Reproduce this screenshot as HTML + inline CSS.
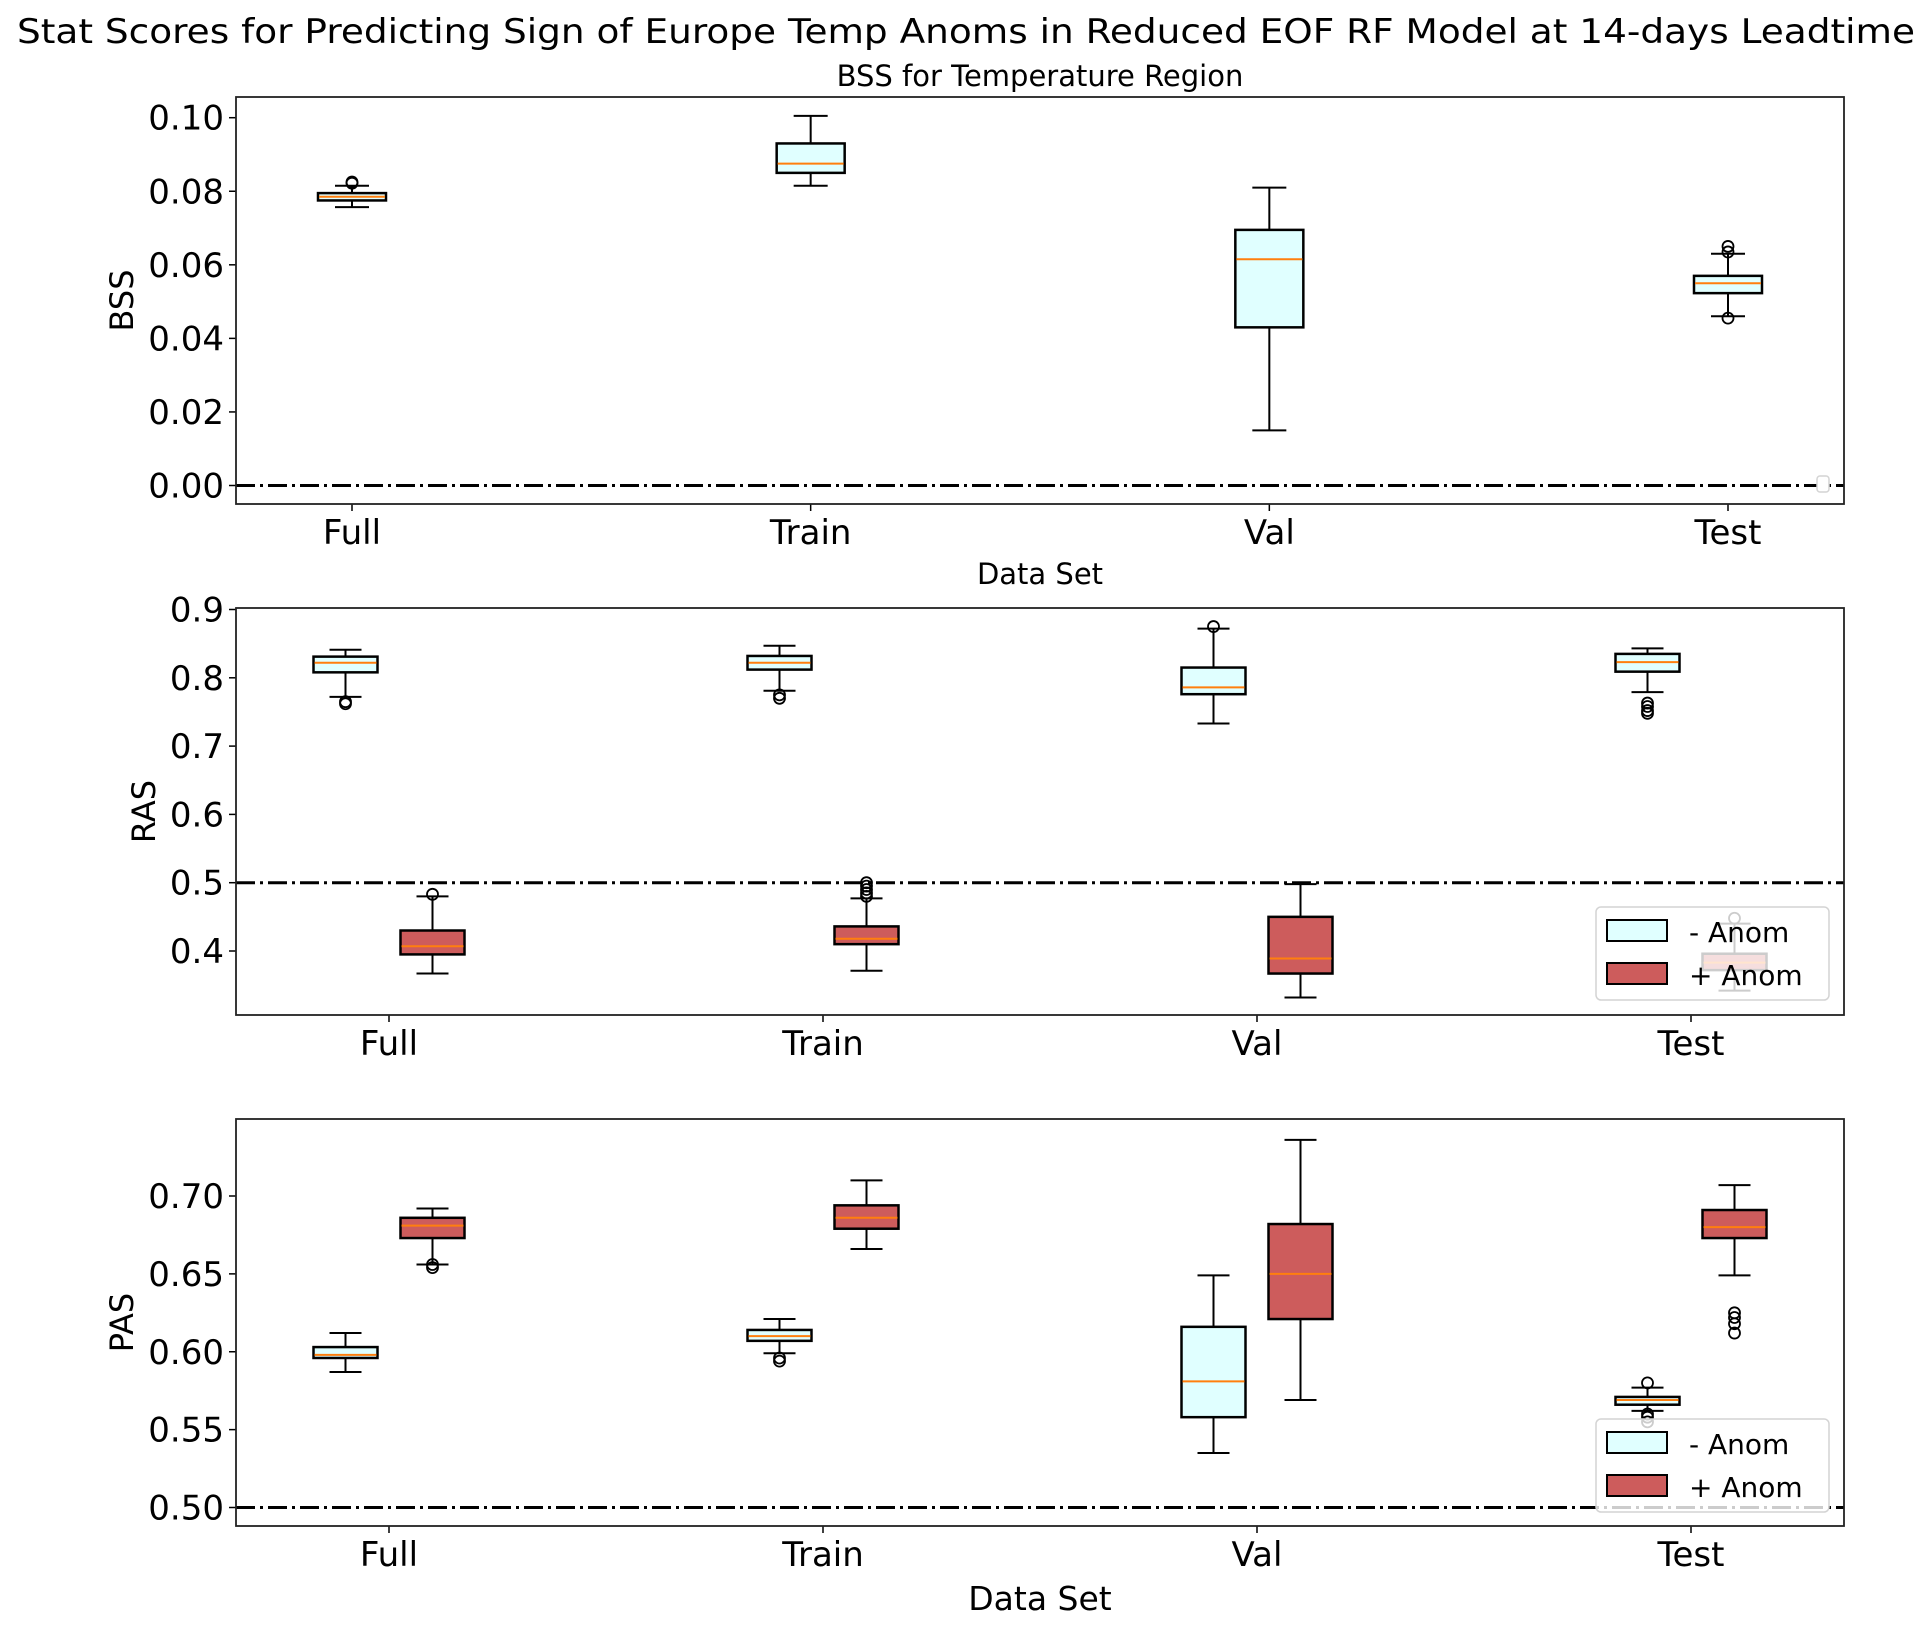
<!DOCTYPE html>
<html><head><meta charset="utf-8"><style>
html,body{margin:0;padding:0;background:#fff;}
svg{display:block;font-family:"DejaVu Sans","Liberation Sans",sans-serif;}
</style></head><body>
<svg id="fig" width="1931" height="1630" viewBox="0 0 1931 1630" xmlns="http://www.w3.org/2000/svg">
<rect width="1931" height="1630" fill="#fff"/>
<text x="17" y="43" font-size="34" textLength="1898" lengthAdjust="spacingAndGlyphs">Stat Scores for Predicting Sign of Europe Temp Anoms in Reduced EOF RF Model at 14-days Leadtime</text>
<text x="1040" y="86" font-size="29" text-anchor="middle">BSS for Temperature Region</text>
<g id="p1"></g>
<g id="p2"></g>
<g id="p3"></g>
</svg>
<script>
const categories = ["Full","Train","Val","Test"];
// stats: [whiskerLo, q1, median, q3, whiskerHi]
const bssStats = [[0.0757,0.0775,0.0785,0.0795,0.0815],[0.0815,0.085,0.0875,0.093,0.1005],[0.015,0.043,0.0615,0.0695,0.081],[0.046,0.0523,0.055,0.057,0.063]];
const bssOutliers = [[0.0825,0.0822],[],[],[0.065,0.0635,0.0455]];
const rasNegStats = [[0.772,0.808,0.822,0.831,0.841],[0.781,0.812,0.822,0.832,0.847],[0.733,0.776,0.786,0.815,0.872],[0.779,0.809,0.823,0.835,0.843]];
const rasNegOutliers = [[0.762,0.765],[0.770,0.775],[0.875],[0.748,0.752,0.758,0.763]];
const rasPosStats = [[0.367,0.395,0.407,0.430,0.480],[0.371,0.410,0.418,0.436,0.477],[0.332,0.367,0.389,0.450,0.498],[0.342,0.372,0.383,0.396,0.440]];
const rasPosOutliers = [[0.483],[0.480,0.485,0.490,0.495,0.500],[],[0.448]];
const pasNegStats = [[0.587,0.596,0.598,0.603,0.612],[0.599,0.607,0.610,0.614,0.621],[0.535,0.558,0.581,0.616,0.649],[0.562,0.566,0.569,0.571,0.577]];
const pasNegOutliers = [[],[0.594,0.596],[],[0.580,0.558,0.555,0.560]];
const pasPosStats = [[0.656,0.673,0.681,0.686,0.692],[0.666,0.679,0.686,0.694,0.710],[0.569,0.621,0.650,0.682,0.736],[0.649,0.673,0.680,0.691,0.707]];
const pasPosOutliers = [[0.654,0.656],[],[],[0.612,0.618,0.622,0.625]];
const bssTicks = [0.00,0.02,0.04,0.06,0.08,0.10];
const rasTicks = [0.4,0.5,0.6,0.7,0.8,0.9];
const pasTicks = [0.50,0.55,0.60,0.65,0.70];

const NS="http://www.w3.org/2000/svg";
function mk(parent,tag,attrs){const e=document.createElementNS(NS,tag);for(const k in attrs)e.setAttribute(k,attrs[k]);parent.appendChild(e);return e;}

function panel(g,cfg){
  const L=236,R=1844,T=cfg.top,B=cfg.bottom;
  const y=v=>cfg.y0px+(v-cfg.v0)*(cfg.y1px-cfg.y0px)/(cfg.v1-cfg.v0);
  const x=i=>L+cfg.margin+i*(R-L-2*cfg.margin)/3;
  cfg.ticks.forEach(t=>{
    const yy=y(t);
    const tk=mk(g,'line',{x1:L-7,x2:L,y1:yy,y2:yy,stroke:'#000','stroke-width':1.5});
    
    
    const tl=mk(g,'text',{x:L-12,y:yy+12,'font-size':34,'text-anchor':'end'});
    tl.textContent=t.toFixed(cfg.dec);
    
    
  });
  categories.forEach((c,i)=>{
    const xx=x(i);
    const tk=mk(g,'line',{x1:xx,x2:xx,y1:B,y2:B+7,stroke:'#000','stroke-width':1.5});
    
    
    const tl=mk(g,'text',{x:xx,y:B+40,'font-size':34,'text-anchor':'middle'});
    tl.textContent=c;
    
    
  });
  const rl=mk(g,'line',{x1:L,x2:R,y1:y(cfg.ref),y2:y(cfg.ref),stroke:'#000','stroke-width':3,'stroke-dasharray':'19 5 3 5'});
  
  
  cfg.series.forEach(s=>{
    s.stats.forEach((st,i)=>{
      const cx=x(i)+s.off, w=s.w;
      const bg=mk(g,'g',{});
      
      
      const cw=w/2;
      mk(bg,'line',{x1:cx,x2:cx,y1:y(st[0]),y2:y(st[1]),stroke:'#000','stroke-width':2});
      mk(bg,'line',{x1:cx,x2:cx,y1:y(st[3]),y2:y(st[4]),stroke:'#000','stroke-width':2});
      mk(bg,'line',{x1:cx-cw/2,x2:cx+cw/2,y1:y(st[0]),y2:y(st[0]),stroke:'#000','stroke-width':2});
      mk(bg,'line',{x1:cx-cw/2,x2:cx+cw/2,y1:y(st[4]),y2:y(st[4]),stroke:'#000','stroke-width':2});
      mk(bg,'rect',{x:cx-w/2,y:y(st[3]),width:w,height:y(st[1])-y(st[3]),fill:s.fill,stroke:'#000','stroke-width':2.5});
      mk(bg,'line',{x1:cx-w/2+1,x2:cx+w/2-1,y1:y(st[2]),y2:y(st[2]),stroke:'#ff7f0e','stroke-width':2});
      s.out[i].forEach(o=>{
        mk(bg,'circle',{cx:cx,cy:y(o),r:5.5,fill:'none',stroke:'#000','stroke-width':1.8});
      });
    });
  });
  const fr=mk(g,'rect',{x:L,y:T,width:R-L,height:B-T,fill:'none',stroke:'#222','stroke-width':1.8});
  
  
  const yl=mk(g,'text',{x:0,y:0,'font-size':32,'text-anchor':'middle',transform:`translate(${cfg.ylx},${(T+B)/2}) rotate(-90)`});
  yl.textContent=cfg.ylabel;
  
  
  if(cfg.legend){
    const lg=mk(g,'g',{});
    
    
    const ly=cfg.legend;
    mk(lg,'rect',{x:1596,y:ly,width:233,height:93,rx:5,fill:'rgba(255,255,255,0.8)',stroke:'#d4d4d4','stroke-width':1.5});
    const e1=mk(lg,'g',{});
    
    
    mk(e1,'rect',{x:1607,y:ly+13,width:60,height:21,fill:'#e0ffff',stroke:'#000','stroke-width':2});
    const t1=mk(e1,'text',{x:1689,y:ly+35,'font-size':28});t1.textContent='- Anom';
    const e2=mk(lg,'g',{});
    
    
    mk(e2,'rect',{x:1607,y:ly+56,width:60,height:21,fill:'#cd5c5c',stroke:'#000','stroke-width':2});
    const t2=mk(e2,'text',{x:1689,y:ly+78,'font-size':28});t2.textContent='+ Anom';
  }
  if(cfg.xlabel){
    const xl=mk(g,'text',{x:(L+R)/2,y:cfg.xly,'font-size':cfg.xlfs,'text-anchor':'middle'});
    xl.textContent='Data Set';
    
    
  }
}

panel(document.getElementById('p1'),{top:97,bottom:504,v0:0,v1:0.10,y0px:485.5,y1px:117.7,margin:116,ticks:bssTicks,dec:2,ref:0,ylabel:'BSS',ylx:133,
  series:[{name:'bss',stats:bssStats,out:bssOutliers,off:0,w:68,fill:'#e0ffff'}],xlabel:true,xly:584,xlfs:29});
const em=mk(document.getElementById('p1'),'rect',{x:1817,y:476,width:12,height:16,rx:3,fill:'#fff',stroke:'#d4d4d4','stroke-width':1.5});



panel(document.getElementById('p2'),{top:608,bottom:1015,v0:0.4,v1:0.9,y0px:951,y1px:609.5,margin:153,ticks:rasTicks,dec:1,ref:0.5,ylabel:'RAS',ylx:155,
  series:[{name:'ras-neg',stats:rasNegStats,out:rasNegOutliers,off:-43.5,w:64,fill:'#e0ffff'},{name:'ras-pos',stats:rasPosStats,out:rasPosOutliers,off:43.5,w:64,fill:'#cd5c5c'}],legend:907});

panel(document.getElementById('p3'),{top:1119,bottom:1526,v0:0.5,v1:0.7,y0px:1507.5,y1px:1196,margin:153,ticks:pasTicks,dec:2,ref:0.5,ylabel:'PAS',ylx:133,
  series:[{name:'pas-neg',stats:pasNegStats,out:pasNegOutliers,off:-43.5,w:64,fill:'#e0ffff'},{name:'pas-pos',stats:pasPosStats,out:pasPosOutliers,off:43.5,w:64,fill:'#cd5c5c'}],legend:1419,xlabel:true,xly:1610,xlfs:33});
</script>
</body></html>
